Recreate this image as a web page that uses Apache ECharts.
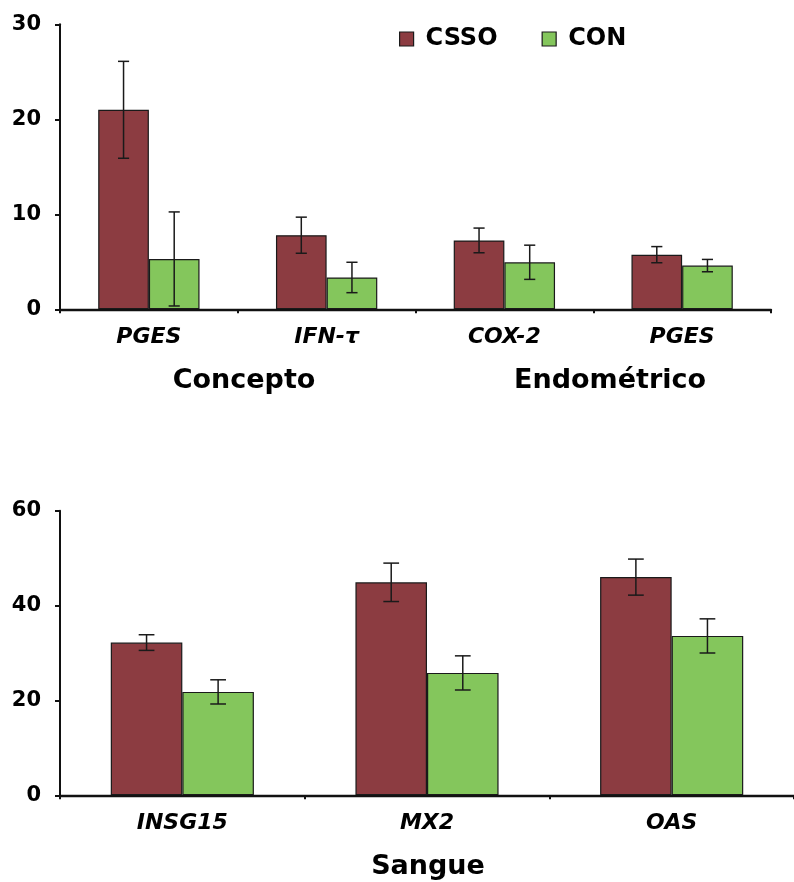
<!DOCTYPE html>
<html>
<head>
<meta charset="utf-8">
<script src="https://cdn.jsdelivr.net/npm/echarts@6/dist/echarts.min.js"></script>
<style>html,body{margin:0;padding:0;background:#fff}#c{width:794px;height:882px}</style>
</head>
<body>
<div id="c"></div>
<script>
// ---- data ----
const topCategories = ['PGES', 'IFN-τ', 'COX-2', 'PGES'];
const topCSSO = [21.0, 7.8, 7.25, 5.75];
const topCSSOErr = [5.1, 1.9, 1.3, 0.85];
const topCON = [5.3, 3.35, 4.95, 4.6];
const topCONErr = [4.95, 1.6, 1.8, 0.65];
const topTicks = [0, 10, 20, 30];

const botCategories = ['INSG15', 'MX2', 'OAS'];
const botCSSO = [32.2, 44.9, 46.0];
const botCSSOErr = [1.65, 4.05, 3.8];
const botCON = [21.8, 25.8, 33.6];
const botCONErr = [2.55, 3.6, 3.6];
const botTicks = [0, 20, 40, 60];

const groupTitles = ['Concepto', 'Endométrico', 'Sangue'];
const seriesNames = ['CSSO', 'CON'];

// ---- style ----
const RED = '#8c3c41';
const GREEN = '#84c65c';
const FONT = 'DejaVu Sans';
const topGap = 0.43, botGap = 0.415;

function errData(means, errs) {
  return means.map((m, i) => [i, m, errs[i]]);
}
function errSeries(name, means, errs, side, gap, axisIdx) {
  return {
    type: 'custom', name: name, xAxisIndex: axisIdx, yAxisIndex: axisIdx,
    data: errData(means, errs), encode: { x: 0, y: 1 }, z: 5,
    renderItem: function (params, api) {
      const i = api.value(0), m = api.value(1), e = api.value(2);
      const band = api.size([1, 0])[0];
      const barW = band * (1 - gap) / 2;
      const c = api.coord([i, m]);
      const cx = c[0] + side * barW / 2;
      const yt = api.coord([i, m + e])[1];
      const yb = api.coord([i, m - e])[1];
      const hw = barW * 0.11;
      const st = { stroke: '#1a1a1a', lineWidth: 1.5 };
      return {
        type: 'group', children: [
          { type: 'line', shape: { x1: cx, y1: yt, x2: cx, y2: yb }, style: st },
          { type: 'line', shape: { x1: cx - hw, y1: yt, x2: cx + hw, y2: yt }, style: st },
          { type: 'line', shape: { x1: cx - hw, y1: yb, x2: cx + hw, y2: yb }, style: st }
        ]
      };
    }
  };
}

const axisLineStyle = { color: '#111', width: 2 };
function xAxis(idx, cats, margin) {
  return {
    type: 'category', gridIndex: idx, data: cats, boundaryGap: true,
    axisLine: { lineStyle: { color: '#111', width: 2.4 } },
    axisTick: { show: true, length: 4, lineStyle: { color: '#111', width: 2 } },
    axisLabel: { color: '#000', fontFamily: FONT, fontWeight: 'bold', fontStyle: 'italic', fontSize: 22, margin: margin }
  };
}
function yAxis(idx, ticks) {
  return {
    type: 'value', gridIndex: idx, min: ticks[0], max: ticks[ticks.length - 1],
    interval: ticks[1] - ticks[0],
    splitLine: { show: false },
    axisLine: { show: true, lineStyle: axisLineStyle },
    axisTick: { show: true, length: 5, lineStyle: { color: '#111', width: 2 } },
    axisLabel: { color: '#000', fontFamily: FONT, fontWeight: 'bold', fontSize: 21, margin: 19 }
  };
}
function barSeries(name, color, data, idx, gap) {
  return {
    type: 'bar', name: name, xAxisIndex: idx, yAxisIndex: idx, data: data,
    barGap: '0%', barCategoryGap: (gap * 100) + '%',
    itemStyle: { color: color, borderColor: '#1a1a1a', borderWidth: 1.2 }
  };
}

const chart = echarts.init(document.getElementById('c'), null, { renderer: 'canvas' });
chart.setOption({
  animation: false,
  backgroundColor: '#fff',
  grid: [
    { left: 60, top: 24.3, width: 711, height: 285 },
    { left: 60, top: 510.7, width: 741, height: 284.6 }
  ],
  legend: {
    data: seriesNames, left: 394, top: 22, icon: 'rect', itemWidth: 14, itemHeight: 14, itemGap: 44,
    itemStyle: { borderColor: '#1a1a1a', borderWidth: 1.2 },
    textStyle: { color: '#000', fontFamily: FONT, fontWeight: 'bold', fontSize: 24, padding: [0, 0, 0, 7] }
  },
  xAxis: [xAxis(0, topCategories, 17), xAxis(1, botCategories, 17)],
  yAxis: [yAxis(0, topTicks), yAxis(1, botTicks)],
  series: [
    barSeries(seriesNames[0], RED, topCSSO, 0, topGap),
    barSeries(seriesNames[1], GREEN, topCON, 0, topGap),
    barSeries(seriesNames[0], RED, botCSSO, 1, botGap),
    barSeries(seriesNames[1], GREEN, botCON, 1, botGap),
    errSeries('errTopCSSO', topCSSO, topCSSOErr, -1, topGap, 0),
    errSeries('errTopCON', topCON, topCONErr, 1, topGap, 0),
    errSeries('errBotCSSO', botCSSO, botCSSOErr, -1, botGap, 1),
    errSeries('errBotCON', botCON, botCONErr, 1, botGap, 1)
  ],
  graphic: [
    { type: 'text', x: 244, y: 381, style: { text: groupTitles[0], fill: '#000', font: 'bold 27px "DejaVu Sans"', textAlign: 'center', textVerticalAlign: 'middle' } },
    { type: 'text', x: 610, y: 381, style: { text: groupTitles[1], fill: '#000', font: 'bold 27px "DejaVu Sans"', textAlign: 'center', textVerticalAlign: 'middle' } },
    { type: 'text', x: 428, y: 867, style: { text: groupTitles[2], fill: '#000', font: 'bold 27px "DejaVu Sans"', textAlign: 'center', textVerticalAlign: 'middle' } }
  ]
});
</script>
</body>
</html>
